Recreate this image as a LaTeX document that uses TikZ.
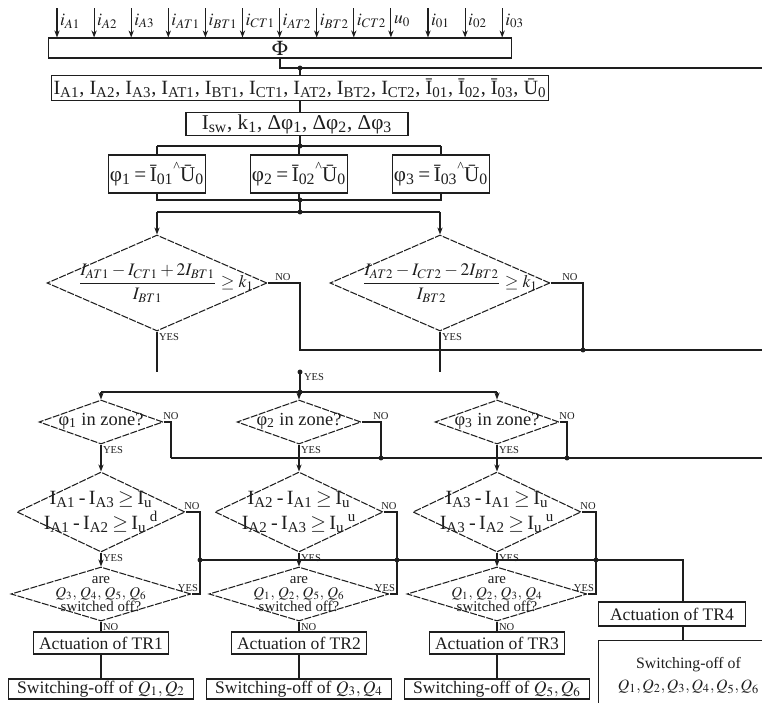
\documentclass[tikz,border=0pt]{standalone}
\usepackage{amsmath}
\usepackage{mathptmx}
\usepackage{fontspec}
\setmainfont{Liberation Serif}
\usetikzlibrary{arrows.meta, shapes.geometric}

\newcommand{\Ix}[1]{I\textsubscript{#1}}
\newcommand{\angl}{\raisebox{1.1ex}{\fontsize{8}{8}\selectfont\textasciicircum}}

\begin{document}
\begin{tikzpicture}[
    x=0.02cm, y=-0.02cm,
    every node/.style={font=\fontsize{10}{12}\selectfont, text=ink},
    line/.style={draw=ink, line width=0.6pt},
    arr/.style={line, -{Stealth[length=4pt, width=3pt]}},
    box/.style={draw=ink, line width=0.6pt, rectangle, inner sep=1pt},
    test/.style={draw=ink, line width=0.6pt, shape=diamond, inner sep=0pt,
                 dash pattern=on 4pt off 0.8pt},
    lbl/.style={font=\fontsize{6}{7}\selectfont, inner sep=1pt},
]

\definecolor{ink}{HTML}{1E1E1E}
\def\junc#1{\fill[ink] (#1) circle (1.4pt);}

\useasboundingbox (0,0) rectangle (762,703);
\clip (0,0) rectangle (762,703);

% ---------------------------------------------------------------- Phi and its inputs
\node[box, minimum width=9.28cm, minimum height=0.4cm, font=\fontsize{12}{14}\selectfont]
    (phi) at (280,48) {$\Phi$};
\foreach \lab [count=\i from 0] in {i_{A1}, i_{A2}, i_{A3}, i_{AT1}, i_{BT1}, i_{CT1},
                                    i_{AT2}, i_{BT2}, i_{CT2}, u_0, i_{01}, i_{02}, i_{03}} {
    \pgfmathsetmacro{\xx}{57+37.1*\i}
    \coordinate (in\i) at (\xx,8);
    \draw[arr] (in\i) -- (in\i |- phi.north);
    \node[anchor=west, inner sep=1pt] (inl\i) at (\xx+1,21) {$\lab$};
}

% ---------------------------------------------------------------- measured values
\coordinate (j0) at (280,68);
\coordinate (j0m) at (300,68);
\coordinate (e0) at (770,68);
\node[box, minimum width=8.9cm, minimum height=0.5cm, font=\fontsize{11.5}{13}\selectfont]
    (meas) at (300,88)
    {\Ix{A1}, \Ix{A2}, \Ix{A3}, \Ix{AT1}, \Ix{BT1}, \Ix{CT1}, \Ix{AT2}, \Ix{BT2}, \Ix{CT2},
     Ī\textsubscript{01}, Ī\textsubscript{02}, Ī\textsubscript{03}, Ū\textsubscript{0}};
\draw[line] (phi.south) -- (j0) -- (e0);
\draw[line] (j0m) -- (meas.north);
\junc{j0m}

% ---------------------------------------------------------------- settings
\node[box, minimum width=4.44cm, minimum height=0.46cm, font=\fontsize{12}{14}\selectfont]
    (calc) at (297,124)
    {\Ix{sw}, k\textsubscript{1}, Δφ\textsubscript{1}, Δφ\textsubscript{2}, Δφ\textsubscript{3}};
\draw[line] (meas.south -| j0m) -- (calc.north -| j0m);

\coordinate (j1) at (300,146);
\draw[line] (calc.south -| j1) -- (j1);
\junc{j1}

% ---------------------------------------------------------------- phase angles
\foreach \id/\xx in {1/157, 2/299, 3/441} {
    \node[box, minimum width=1.84cm, minimum height=0.76cm, font=\fontsize{12}{14}\selectfont]
        (f\id) at (\xx,174) {φ\textsubscript{\id}\,=\,Ī\textsubscript{0\id}\angl Ū\textsubscript{0}};
    \draw[line] (f\id.north |- j1) -- (f\id.north);
}
\draw[line] (f1.north |- j1) -- (f3.north |- j1);

\coordinate (j2) at (300,200);
\coordinate (j3) at (300,212);
\draw[line] (f1.south) -- (f1.south |- j2) -- (f3.south |- j2) -- (f3.south);
\draw[line] (f2.south) -- (f2.south |- j2);
\draw[line] (j2) -- (j3);
\junc{j2} \junc{j3}

% ---------------------------------------------------------------- ratio checks
\node[test, minimum width=4.4cm, minimum height=1.92cm] (r1) at (157,283) {};
\node[test, minimum width=4.4cm, minimum height=1.92cm] (r2) at (440,283) {};
\node[font=\fontsize{10}{12}\selectfont] (rt1) at (166,283)
    {$\dfrac{I_{AT1}-I_{CT1}+2I_{BT1}}{I_{BT1}}\geq k_1$};
\node[font=\fontsize{10}{12}\selectfont] (rt2) at (450,283)
    {$\dfrac{I_{AT2}-I_{CT2}-2I_{BT2}}{I_{BT2}}\geq k_1$};
\draw[line] (r1.north |- j3) -- (r2.north |- j3);
\draw[arr] (r1.north |- j3) -- (r1.north);
\draw[arr] (r2.north |- j3) -- (r2.north);

\coordinate (rc1) at (300,283);
\coordinate (rn1) at (300,350);
\coordinate (e1) at (770,350);
\coordinate (rc2) at (583,283);
\coordinate (rn2) at (583,350);
\draw[line] (r1.east) -- (rc1) -- (rn1) -- (e1);
\draw[line] (r2.east) -- (rc2) -- (rn2);
\junc{rn2}
\node[lbl, anchor=south] (rno1) at (283,283) {NO};
\node[lbl, anchor=south] (rno2) at (570,283) {NO};

\coordinate (ry1) at (157,372);
\coordinate (ry2) at (440,372);
\draw[line] (r1.south) -- (ry1);
\draw[line] (r2.south) -- (ry2);
\node[lbl, anchor=north west] (ryes1) at (r1.south) {YES};
\node[lbl, anchor=north west] (ryes2) at (r2.south) {YES};

% ---------------------------------------------------------------- zone checks
\coordinate (y0) at (300,372);
\coordinate (j4) at (300,392);
\draw[line] (y0) -- (j4);
\junc{y0} \junc{j4}
\node[lbl, anchor=west] (yes0) at (302,377) {YES};

\foreach \id/\xx/\cx in {1/101/171, 2/299/381, 3/497/567} {
    \node[test, minimum width=2.48cm, minimum height=0.88cm] (z\id) at (\xx,422) {};
    \node[font=\fontsize{10.5}{12}\selectfont] (zt\id) at (\xx,421) {φ\textsubscript{\id} in zone?};
    \draw[arr] (z\id.north |- j4) -- (z\id.north);
    \coordinate (zc\id) at (\cx,422);
    \coordinate (zn\id) at (\cx,458);
    \draw[line] (z\id.east) -- (zc\id) -- (zn\id);
    \node[lbl, anchor=south] (zno\id) at (zc\id) {NO};
    \node[lbl, anchor=north west] (zyes\id) at (z\id.south) {YES};
}
\draw[line] (z1.north |- j4) -- (z3.north |- j4);
\coordinate (e2) at (770,458);
\draw[line] (zn1) -- (e2);
\junc{zn2} \junc{zn3}

% ---------------------------------------------------------------- current differences
\foreach \id/\xx/\cx/\pa/\pb/\pc/\ex in {1/101/200/1/3/2/d, 2/299/397/2/1/3/u, 3/497/596/3/1/2/u} {
    \node[test, minimum width=3.36cm, minimum height=1.6cm] (d\id) at (\xx,512) {};
    \node[align=center, font=\fontsize{11.5}{14}\selectfont] (dt\id) at (\xx,512)
        {\Ix{A\pa}\,-\,\Ix{A\pb}\,$\geq$\,\Ix{u}\\
         \Ix{A\pa}\,-\,\Ix{A\pc}\,$\geq$\,\Ix{u}\,\textsuperscript{\ex}};
    \draw[arr] (z\id.south) -- (d\id.north);
    \coordinate (dc\id) at (\cx,512);
    \coordinate (dj\id) at (\cx,560);
    \coordinate (dq\id) at (\cx,594);
    \node[lbl, anchor=south] (dno\id) at (\cx-8,512) {NO};
    \node[lbl, anchor=north west] (dyes\id) at (d\id.south) {YES};
}

% ---------------------------------------------------------------- breakers already off?
\foreach \id/\xx/\qa/\qb/\qc/\qd in {1/101/3/4/5/6, 2/299/1/2/5/6, 3/497/1/2/3/4} {
    \node[test, minimum width=3.6cm, minimum height=1.08cm] (q\id) at (\xx,594) {};
    \node[align=center, font=\fontsize{8.5}{8}\selectfont] (qt\id) at (\xx,594)
        {are\\$Q_\qa,\, Q_\qb,\, Q_\qc,\, Q_\qd$\\switched off?};
    \draw[arr] (d\id.south) -- (q\id.north);
    \draw[line] (d\id.east) -- (dc\id) -- (dq\id) -- (q\id.east);
    \node[lbl, anchor=south east] (qyes\id) at (dq\id) {YES};
    \node[lbl, anchor=north west] (qno\id) at (q\id.south) {NO};
}
\junc{dj1} \junc{dj2} \junc{dj3}

% ---------------------------------------------------------------- tripping
\foreach \id/\xx/\sa/\sb in {1/101/1/2, 2/299/3/4, 3/497/5/6} {
    \node[box, minimum width=2.7cm, minimum height=0.44cm] (a\id) at (\xx,643) {Actuation of TR\id};
    \node[box, minimum width=3.7cm, minimum height=0.4cm] (s\id) at (\xx,689)
        {Switching-off of $Q_\sa, Q_\sb$};
    \draw[line] (q\id.south) -- (a\id.north);
    \draw[line] (a\id.south) -- (s\id.north);
}

\node[box, minimum width=2.94cm, minimum height=0.48cm] (a4) at (672,614) {Actuation of TR4};
\node[box, anchor=north west, minimum width=3.6cm, minimum height=1.4cm, align=center,
      font=\fontsize{9}{12}\selectfont]
    (s4) at (598,640) {Switching-off of\\$Q_1,Q_2,Q_3,Q_4,Q_5,Q_6$};
\coordinate (k0) at (683,560);
\draw[line] (dj1) -- (k0) -- (k0 |- a4.north);
\draw[line] (a4.south -| k0) -- (s4.north -| k0);

\end{tikzpicture}
\end{document}
